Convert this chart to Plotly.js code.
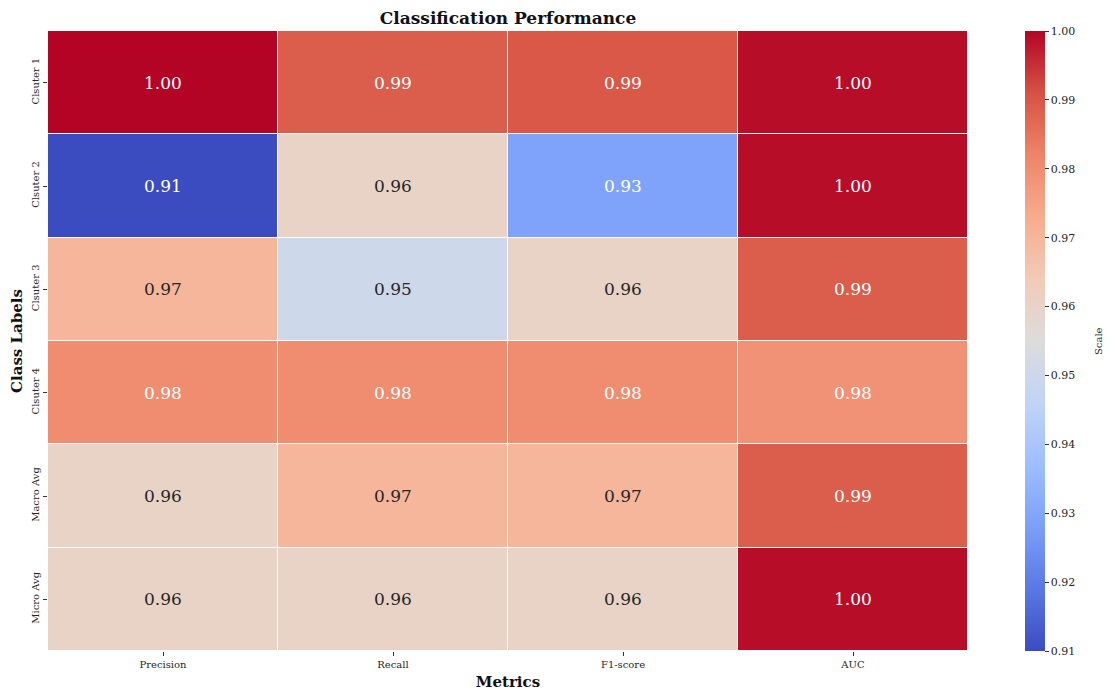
<!DOCTYPE html>
<html>
<head>
<meta charset="utf-8">
<script src="https://cdn.plot.ly/plotly-3.0.1.min.js"></script>
<style>html,body{margin:0;padding:0;background:#fff;}#chart{width:1115px;height:691px;}</style>
</head>
<body>
<div id="chart"></div>
<script>
const metrics = ["Precision", "Recall", "F1-score", "AUC"];
const classLabels = ["Clsuter 1", "Clsuter 2", "Clsuter 3", "Clsuter 4", "Macro Avg", "Micro Avg"];
const cluster1 = [1.000, 0.989, 0.990, 0.999];
const cluster2 = [0.910, 0.960, 0.929, 0.999];
const cluster3 = [0.970, 0.950, 0.960, 0.989];
const cluster4 = [0.980, 0.980, 0.980, 0.979];
const macroAvg = [0.960, 0.970, 0.970, 0.989];
const microAvg = [0.960, 0.960, 0.960, 0.999];
const zmin = 0.91, zmax = 1.00;
const colorbarTicks = [0.91, 0.92, 0.93, 0.94, 0.95, 0.96, 0.97, 0.98, 0.99, 1.00];

const z = [cluster1, cluster2, cluster3, cluster4, macroAvg, microAvg];

const coolwarm = [
  [0.0, "#3b4cc0"], [0.1, "#5a78e4"], [0.2, "#7b9ff9"], [0.3, "#9ebeff"],
  [0.4, "#c0d4f5"], [0.5, "#dddcdc"], [0.6, "#f2cbb7"], [0.7, "#f7ac8e"],
  [0.8, "#ee8468"], [0.9, "#d65244"], [1.0, "#b40426"]
];

function hexToRgb(h){return [parseInt(h.slice(1,3),16),parseInt(h.slice(3,5),16),parseInt(h.slice(5,7),16)];}
function colorAt(v){
  let t = (v - zmin) / (zmax - zmin);
  t = Math.max(0, Math.min(1, t));
  for (let i = 0; i < coolwarm.length - 1; i++) {
    const [a, ca] = coolwarm[i], [b, cb] = coolwarm[i+1];
    if (t <= b) {
      const f = (t - a) / (b - a), A = hexToRgb(ca), B = hexToRgb(cb);
      return A.map((x, k) => x + (B[k] - x) * f);
    }
  }
  return hexToRgb(coolwarm[coolwarm.length-1][1]);
}
function lum(rgb){
  const c = rgb.map(x => { x /= 255; return x <= 0.03928 ? x/12.92 : Math.pow((x+0.055)/1.055, 2.4); });
  return 0.2126*c[0] + 0.7152*c[1] + 0.0722*c[2];
}

const annotations = [];
z.forEach((row, i) => row.forEach((v, j) => {
  annotations.push({
    x: metrics[j], y: classLabels[i], xref: "x", yref: "y",
    text: v.toFixed(2), showarrow: false,
    font: {family: "DejaVu Serif", size: 17, color: lum(colorAt(v)) > 0.45 ? "#262626" : "#ffffff"}
  });
}));
annotations.push({
  text: "Scale", xref: "paper", yref: "paper", x: 1.1413, y: 0.5,
  xanchor: "center", yanchor: "middle", textangle: -90, showarrow: false,
  font: {family: "DejaVu Serif", size: 10, color: "#262626"}
});

const trace = {
  type: "heatmap",
  x: metrics, y: classLabels, z: z,
  zmin: zmin, zmax: zmax,
  colorscale: coolwarm,
  xgap: 1, ygap: 1,
  colorbar: {
    x: 1.062, xanchor: "left", xref: "paper", xpad: 0, ypad: 0,
    y: 0.5, yanchor: "middle", len: 1, lenmode: "fraction",
    thickness: 20, outlinewidth: 0,
    ticks: "outside", ticklen: 4, tickcolor: "#333",
    tickvals: colorbarTicks,
    tickformat: ".2f",
    tickfont: {family: "DejaVu Serif", size: 11, color: "#262626"}
  }
};

const layout = {
  width: 1115, height: 691,
  margin: {l: 48, r: 147, t: 31, b: 40},
  paper_bgcolor: "#fff", plot_bgcolor: "#fff",
  title: {text: "<b>Classification Performance</b>", x: 0.5, xref: "paper", xanchor: "center",
          y: 1, yref: "paper", yanchor: "bottom", pad: {b: 7},
          font: {family: "DejaVu Serif", size: 17, color: "#111"}},
  xaxis: {
    type: "category", showgrid: false, zeroline: false,
    ticks: "outside", ticklen: 4, tickcolor: "#333",
    tickfont: {family: "DejaVu Serif", size: 10, color: "#262626"},
    title: {text: "<b>Metrics</b>", standoff: 7, font: {family: "DejaVu Serif", size: 15, color: "#111"}}
  },
  yaxis: {
    type: "category", autorange: "reversed", showgrid: false, zeroline: false,
    ticks: "outside", ticklen: 4, tickcolor: "#333", tickangle: -90,
    tickfont: {family: "DejaVu Serif", size: 10, color: "#262626"},
    title: {text: "<b>Class Labels</b>", standoff: 3, font: {family: "DejaVu Serif", size: 15, color: "#111"}}
  },
  annotations: annotations
};

Plotly.newPlot("chart", [trace], layout, {displayModeBar: false, staticPlot: true});
</script>
</body>
</html>
